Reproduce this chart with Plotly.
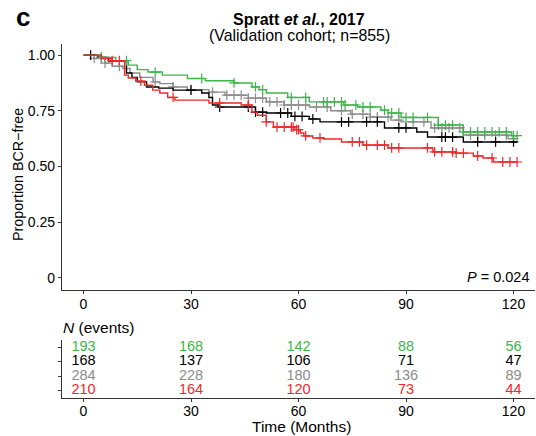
import numpy as np
import plotly.graph_objects as go

# ---------------- data ----------------
group_names = ["green", "black", "gray", "red"]
colors = {"green": "#3DB549", "black": "#000000", "gray": "#8C8C8C", "red": "#F0262B"}

green_t = [0, 5, 9, 12.5, 15, 18, 22, 29, 34, 42, 47, 49, 51, 57, 63, 72.6, 76.5, 83, 85, 88.6, 99, 106, 119.5, 121]
green_s = [1.0, 0.99, 0.975, 0.955, 0.935, 0.924, 0.91, 0.895, 0.885, 0.875, 0.857, 0.845, 0.83, 0.81, 0.79, 0.776, 0.767, 0.753, 0.74, 0.72, 0.686, 0.655, 0.638, 0.638]

gray_t = [0, 3, 6, 8, 11, 13, 15.7, 19.4, 21.3, 25, 29, 35, 39.5, 46, 51, 56, 63, 69, 74.6, 80, 85.8, 88.6, 97, 106, 118.5, 121]
gray_s = [1.0, 0.985, 0.964, 0.95, 0.94, 0.92, 0.90, 0.88, 0.872, 0.857, 0.845, 0.834, 0.82, 0.807, 0.79, 0.776, 0.767, 0.75, 0.735, 0.722, 0.708, 0.70, 0.673, 0.641, 0.625, 0.625]

black_t = [0, 4, 7, 12, 13.5, 15, 17.6, 21, 25, 33, 35, 36, 37.6, 48, 51, 58, 63, 66, 84, 93, 96, 106, 121]
black_s = [1.0, 0.99, 0.973, 0.92, 0.90, 0.88, 0.857, 0.852, 0.843, 0.83, 0.81, 0.776, 0.767, 0.744, 0.74, 0.725, 0.713, 0.70, 0.673, 0.655, 0.632, 0.61, 0.61]

red_t = [0, 5, 8, 11.5, 12.5, 14.6, 17, 19.3, 21.3, 23.5, 25.5, 35, 44, 47, 48.5, 51, 53, 59, 60.5, 61.5, 64, 67, 72, 78, 85, 97.5, 104, 108.8, 111.5, 114.4, 121]
red_s = [1.0, 0.985, 0.975, 0.91, 0.897, 0.883, 0.865, 0.843, 0.83, 0.81, 0.798, 0.785, 0.776, 0.744, 0.73, 0.70, 0.677, 0.665, 0.65, 0.637, 0.628, 0.623, 0.61, 0.596, 0.583, 0.565, 0.56, 0.547, 0.538, 0.52, 0.52]

green_cens = [5, 12, 20, 33, 42, 48, 50, 58, 62, 67, 68, 70, 72, 73, 76, 78, 80, 84, 86, 88, 90, 92, 96, 99, 101, 103, 106, 108, 110, 112, 114, 116, 118, 120, 121]
gray_cens = [3, 6, 10, 20, 25, 30, 36, 40, 42, 44, 46, 48, 50, 52, 54, 56, 58, 60, 62, 65, 68, 72, 75, 78, 80, 82, 85, 88, 92, 95, 98, 100, 102, 105, 108, 110, 112, 115, 118, 120]
black_cens = [2, 5, 30, 38, 46, 48, 50, 55, 57, 59, 61, 64, 72, 74, 79, 82, 88, 90, 100, 101, 103, 110, 115, 120]
red_cens = [8, 10, 16, 25, 38, 46, 51, 54, 56, 58, 58.5, 59.5, 60, 62, 66, 75, 77, 79, 82, 84, 86, 88, 96, 98, 100, 103, 104, 106, 110, 114, 117, 119, 121]

risk_times = [0, 30, 60, 90, 120]
risk_green = [193, 168, 142, 88, 56]
risk_black = [168, 137, 106, 71, 47]
risk_gray = [284, 228, 180, 136, 89]
risk_red = [210, 164, 120, 73, 44]

x_ticks = [0, 30, 60, 90, 120]
y_ticks = [0, 0.25, 0.5, 0.75, 1.0]
y_ticklabels = ["0", "0.25", "0.50", "0.75", "1.00"]

curves = {
    "green": (green_t, green_s, green_cens, risk_green),
    "black": (black_t, black_s, black_cens, risk_black),
    "gray": (gray_t, gray_s, gray_cens, risk_gray),
    "red": (red_t, red_s, red_cens, risk_red),
}
row_pos = {"green": 4, "black": 3, "gray": 2, "red": 1}

FONT = "Liberation Sans, Arial, sans-serif"

fig = go.Figure()

# draw order: gray, black, green, red
for name in ["gray", "black", "green", "red"]:
    t, s, cens, _ = curves[name]
    c = colors[name]
    fig.add_trace(go.Scatter(x=t, y=s, mode="lines", line=dict(color=c, width=1.4, shape="hv"),
                             xaxis="x", yaxis="y", showlegend=False, hoverinfo="skip"))
    tt = np.array(t)
    ss = np.array(s)
    ct = np.array(cens)
    idx = np.searchsorted(tt, ct, side="right") - 1
    cy = ss[idx]
    fig.add_trace(go.Scatter(x=ct, y=cy, mode="markers",
                             marker=dict(symbol="cross-thin", size=7, line=dict(color=c, width=1.2), color=c),
                             xaxis="x", yaxis="y", showlegend=False, hoverinfo="skip"))

# risk table
for name in group_names:
    _, _, _, risk = curves[name]
    fig.add_trace(go.Scatter(x=risk_times, y=[row_pos[name]] * len(risk_times), mode="text",
                             text=[str(v) for v in risk], textposition="middle center",
                             textfont=dict(color=colors[name], size=14.5, family=FONT),
                             cliponaxis=False,
                             xaxis="x2", yaxis="y2", showlegend=False, hoverinfo="skip"))

W, H = 536, 436
ml, mr, mt, mb = 62, 1, 44, 38
pw = W - ml - mr
ph = H - mt - mb


def px_y(py):
    return (H - mb - py) / ph


def px_x(pxv):
    return (pxv - ml) / pw


axis_common = dict(showgrid=False, zeroline=False, showline=True, linecolor="#333333", linewidth=1.2,
                   ticks="outside", ticklen=3, tickwidth=1, tickcolor="#333333",
                   tickfont=dict(size=14, family=FONT, color="#000000"))

fig.update_layout(
    width=W, height=H,
    margin=dict(l=ml, r=mr, t=mt, b=mb),
    plot_bgcolor="white", paper_bgcolor="white",
    font=dict(family=FONT, color="#000000"),
    xaxis=dict(domain=[0, 1], range=[-6, 126], tickvals=x_ticks, anchor="y", ticklabelstandoff=-2,
               **axis_common),
    yaxis=dict(domain=[px_y(290), 1], range=[-0.055, 1.05], tickvals=y_ticks, ticktext=y_ticklabels,
               anchor="x", **axis_common),
    xaxis2=dict(domain=[0, 1], range=[-6, 126], tickvals=x_ticks, anchor="y2", ticklabelstandoff=-3,
                **axis_common),
    yaxis2=dict(domain=[0, px_y(340)], range=[0.5, 4.5], tickvals=[1, 2, 3, 4], ticktext=["", "", "", ""],
                anchor="x2", **axis_common),
    annotations=[
        dict(text="c", x=px_x(23), y=px_y(17), xref="paper", yref="paper", showarrow=False,
             font=dict(size=26, family=FONT, color="#000000", weight="bold"), xanchor="center", yanchor="middle"),
        dict(text="<b>Spratt <i>et al.</i>, 2017</b>", x=px_x(299), y=px_y(19), xref="paper", yref="paper",
             showarrow=False, font=dict(size=16, family=FONT), xanchor="center", yanchor="middle"),
        dict(text="(Validation cohort; n=855)", x=px_x(299), y=px_y(36), xref="paper", yref="paper",
             showarrow=False, font=dict(size=15.9, family=FONT), xanchor="center", yanchor="middle"),
        dict(text="Proportion BCR\u2212free", x=px_x(18), y=px_y(175), xref="paper", yref="paper",
             showarrow=False, textangle=-90, font=dict(size=14.3, family=FONT), xanchor="center", yanchor="middle"),
        dict(text="<i>P</i> = 0.024", x=px_x(531), y=px_y(277), xref="paper", yref="paper",
             showarrow=False, font=dict(size=14.5, family=FONT), xanchor="right", yanchor="middle"),
        dict(text="<i>N</i> (events)", x=px_x(61), y=px_y(327), xref="paper", yref="paper",
             showarrow=False, font=dict(size=15.5, family=FONT), xanchor="left", yanchor="middle"),
        dict(text="Time (Months)", x=px_x(301), y=px_y(426), xref="paper", yref="paper",
             showarrow=False, font=dict(size=15.5, family=FONT), xanchor="center", yanchor="middle"),
    ],
)

fig.write_html("out.html", config={"displayModeBar": False},
               post_script="document.body.style.margin='0';document.body.style.overflow='hidden';")
